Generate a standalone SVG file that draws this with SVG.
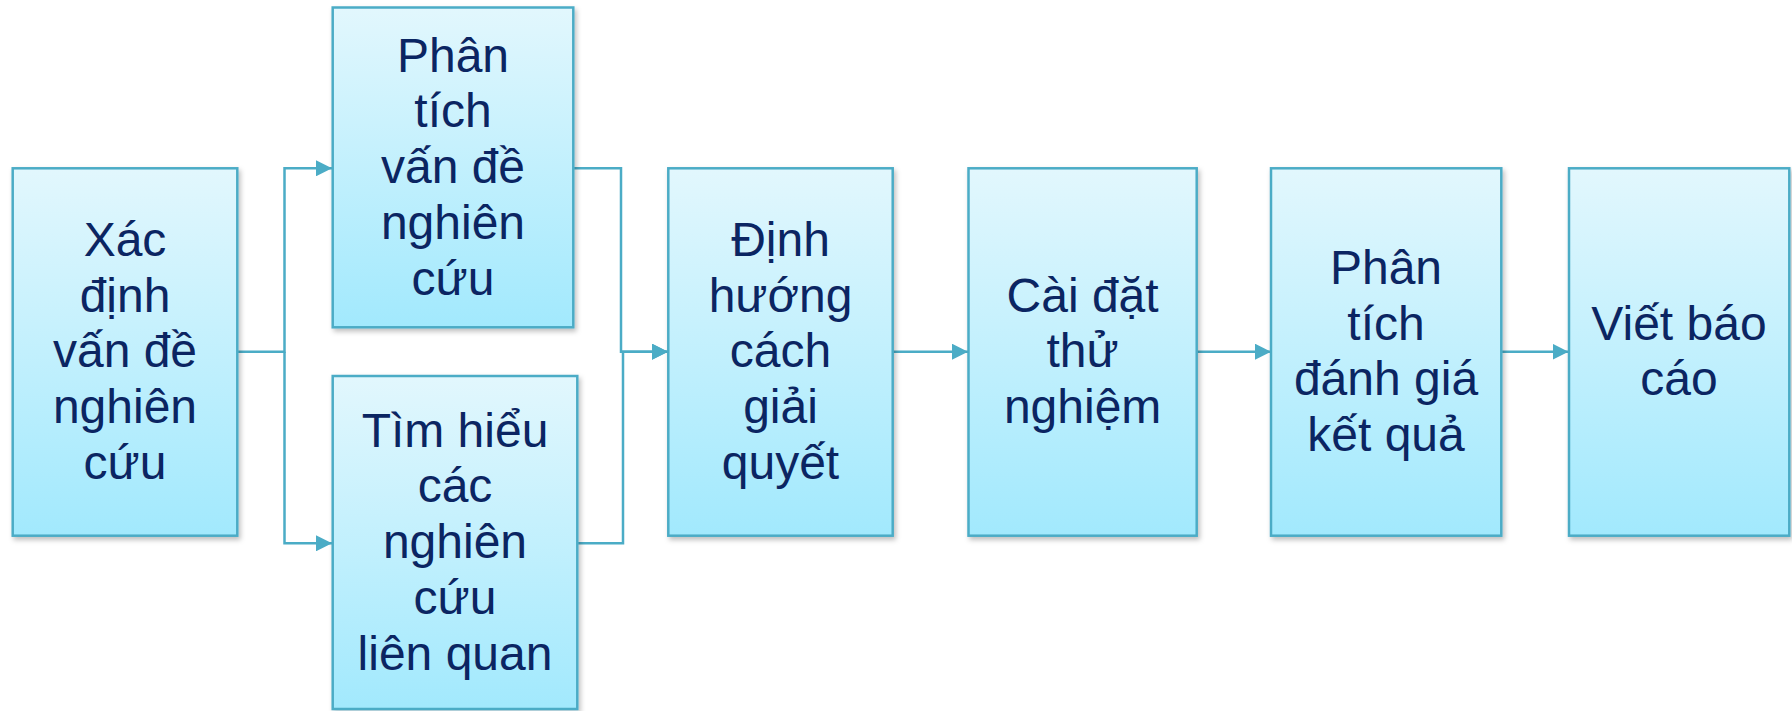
<svg xmlns="http://www.w3.org/2000/svg" width="1792" height="711" viewBox="0 0 1792 711">
<defs>
<linearGradient id="g" x1="0" y1="0" x2="0" y2="1">
<stop offset="0" stop-color="#E2F7FD"/>
<stop offset="1" stop-color="#A2E9FD"/>
</linearGradient>
<filter id="sh" x="-10%" y="-10%" width="120%" height="120%">
<feDropShadow dx="2" dy="3" stdDeviation="2.5" flood-color="#000" flood-opacity="0.25"/>
</filter>
<marker id="ar" markerUnits="userSpaceOnUse" markerWidth="16" markerHeight="16" refX="16" refY="8" orient="auto">
<path d="M0,0 L16,8 L0,16 Z" fill="#4BACC6"/>
</marker>
</defs>
<style>
.box{fill:url(#g);stroke:#4BACC6;stroke-width:2.5;filter:url(#sh)}
.t{font-family:"Liberation Sans",Arial,sans-serif;font-size:48px;fill:#0B2562;text-anchor:middle}
.c{fill:none;stroke:#4BACC6;stroke-width:2.5}
</style>
<g id="connectors">
<path class="c" d="M237,351.7 H284.5 V168.3 H332" marker-end="url(#ar)"/>
<path class="c" d="M284.5,351.7 V543.3 H332" marker-end="url(#ar)"/>
<path class="c" d="M573.3,168.3 H621 V351.7 H668" marker-end="url(#ar)"/>
<path class="c" d="M577.3,543.3 H623 V351.7 H668" marker-end="url(#ar)"/>
<path class="c" d="M892.7,351.7 H968" marker-end="url(#ar)"/>
<path class="c" d="M1196.7,351.7 H1271" marker-end="url(#ar)"/>
<path class="c" d="M1501.3,351.7 H1568.5" marker-end="url(#ar)"/>
</g>
<g id="n1">
<rect class="box" x="12.7" y="168.3" width="224.6" height="367.4"/>
<text class="t" x="125" y="256">Xác</text>
<text class="t" x="125" y="311.7">định</text>
<text class="t" x="125" y="367.4">vấn đề</text>
<text class="t" x="125" y="423.1">nghiên</text>
<text class="t" x="125" y="478.8">cứu</text>
</g>
<g id="n2">
<rect class="box" x="332.7" y="7.5" width="240.6" height="319.8"/>
<text class="t" x="453" y="71.7">Phân</text>
<text class="t" x="453" y="127.4">tích</text>
<text class="t" x="453" y="183.1">vấn đề</text>
<text class="t" x="453" y="238.8">nghiên</text>
<text class="t" x="453" y="294.5">cứu</text>
</g>
<g id="n3">
<rect class="box" x="332.7" y="376" width="244.6" height="333"/>
<text class="t" x="455" y="446.7">Tìm hiểu</text>
<text class="t" x="455" y="502.4">các</text>
<text class="t" x="455" y="558.1">nghiên</text>
<text class="t" x="455" y="613.8">cứu</text>
<text class="t" x="455" y="669.5">liên quan</text>
</g>
<g id="n4">
<rect class="box" x="668.3" y="168.3" width="224.4" height="367.4"/>
<text class="t" x="780.5" y="256">Định</text>
<text class="t" x="780.5" y="311.7">hướng</text>
<text class="t" x="780.5" y="367.4">cách</text>
<text class="t" x="780.5" y="423.1">giải</text>
<text class="t" x="780.5" y="478.8">quyết</text>
</g>
<g id="n5">
<rect class="box" x="968.5" y="168.3" width="228.2" height="367.4"/>
<text class="t" x="1082.6" y="311.7">Cài đặt</text>
<text class="t" x="1082.6" y="367.4">thử</text>
<text class="t" x="1082.6" y="423.1">nghiệm</text>
</g>
<g id="n6">
<rect class="box" x="1271" y="168.3" width="230.3" height="367.4"/>
<text class="t" x="1386" y="283.9">Phân</text>
<text class="t" x="1386" y="339.6">tích</text>
<text class="t" x="1386" y="395.3">đánh giá</text>
<text class="t" x="1386" y="451">kết quả</text>
</g>
<g id="n7">
<rect class="box" x="1569" y="168.3" width="220.3" height="367.4"/>
<text class="t" x="1679" y="339.6">Viết báo</text>
<text class="t" x="1679" y="395.3">cáo</text>
</g>
</svg>
